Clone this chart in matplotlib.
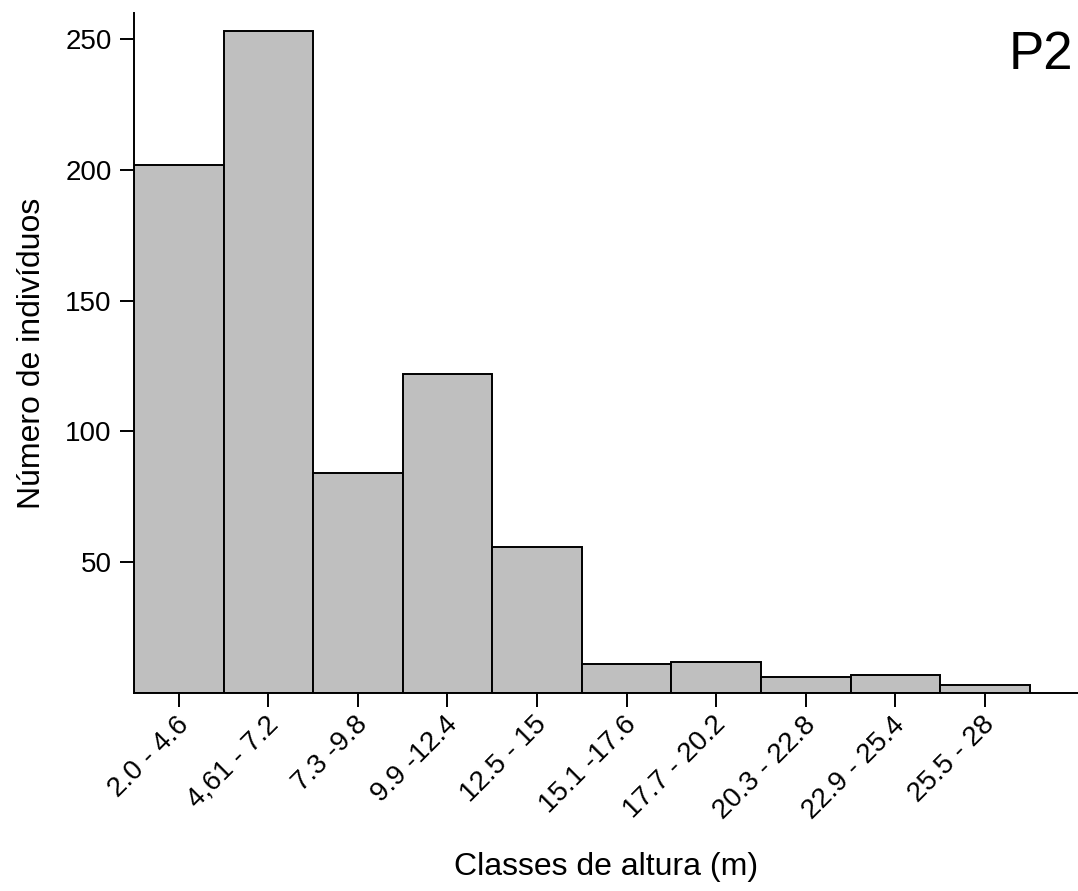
import matplotlib
matplotlib.use("Agg")
import matplotlib.pyplot as plt
import matplotlib.transforms as mtransforms
import numpy as np

plt.rcParams['font.family'] = ['Liberation Sans', 'DejaVu Sans']

# height classes and counts
classes = ['2.0 - 4.6', '4,61 - 7.2', '7.3 -9.8', '9.9 -12.4', '12.5 - 15',
           '15.1 -17.6', '17.7 - 20.2', '20.3 - 22.8', '22.9 - 25.4', '25.5 - 28']
counts = [202, 253, 84, 122, 56, 11, 12, 6, 7, 3]
yticks = [50, 100, 150, 200, 250]

fig = plt.figure(figsize=(10.78, 8.91), dpi=100)
ax = fig.add_axes([134/1078, 198/891, 944/1078, 680/891])

x = np.arange(len(classes))
ax.bar(x, counts, width=1.0, color='#BFBFBF', edgecolor='black', linewidth=1.4)

ax.set_xlim(-0.5, 10.04)
ax.set_ylim(0, 260)
ax.spines['top'].set_visible(False)
ax.spines['right'].set_visible(False)
ax.spines['left'].set_linewidth(1.4)
ax.spines['bottom'].set_linewidth(1.4)

ax.set_yticks(yticks)
ax.set_xticks(x)
ax.set_xticklabels(classes, rotation=45, ha='right', va='center', rotation_mode='anchor')
ax.tick_params(axis='both', direction='out', length=10, width=1.4, labelsize=20)
ax.tick_params(axis='x', pad=10)
ax.tick_params(axis='y', pad=6)

# nudge rotated labels a bit to the right, like the original
shift = mtransforms.ScaledTranslation(6/100, 0, fig.dpi_scale_trans)
for lab in ax.get_xticklabels():
    lab.set_transform(lab.get_transform() + shift)

ax.set_ylabel('Número de indivíduos', fontsize=23, labelpad=13)
ax.set_xlabel('Classes de altura (m)', fontsize=23, labelpad=20)

ax.text(1073/1078, 1 - 55/891, 'P2', transform=fig.transFigure, fontsize=38,
        ha='right', va='center')

fig.savefig('out.png', dpi=100)
